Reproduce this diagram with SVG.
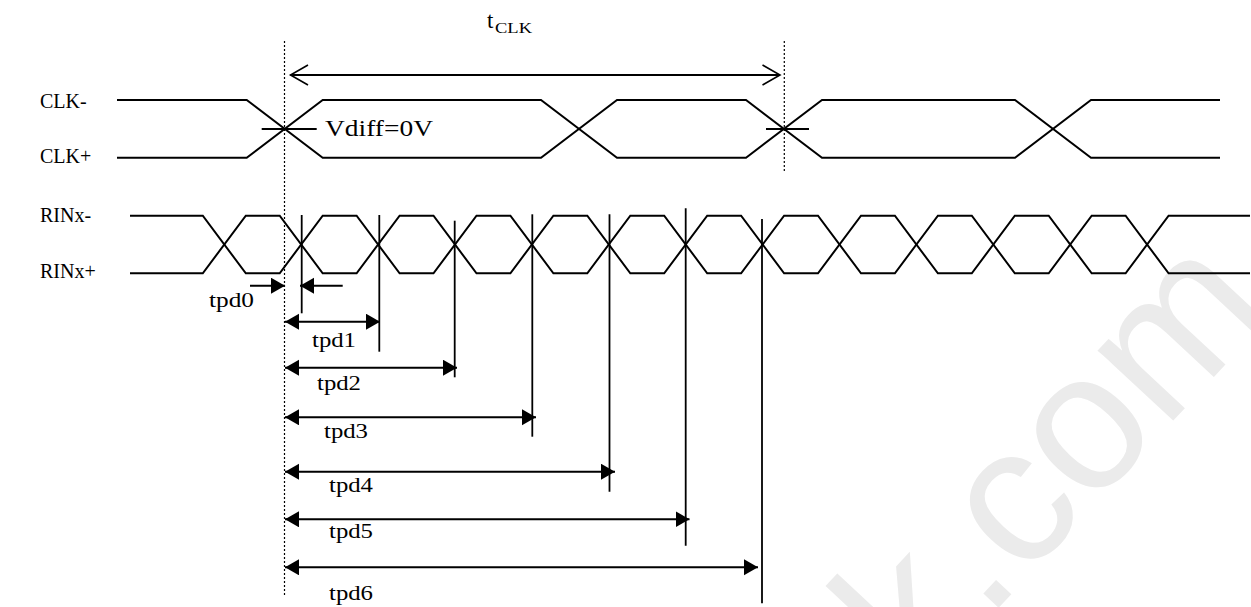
<svg xmlns="http://www.w3.org/2000/svg" width="1251" height="607" viewBox="0 0 1251 607">
<style>
.wave{fill:none;stroke:#000;stroke-width:2;stroke-linejoin:miter}
.vline{stroke:#000;stroke-width:1.8}
.dot{stroke:#000;stroke-width:1.2;stroke-dasharray:2,2}
.dim{stroke:#000;stroke-width:2;fill:none}
.tick{stroke:#000;stroke-width:2}
.serif{font-family:"Liberation Serif","Times New Roman",serif;fill:#000}
.lbl{font-size:20px}
.tpd{font-size:20px}
.wm{font-family:"Liberation Sans",Arial,sans-serif;font-size:195px;fill:#ebebeb}
</style>
<defs>
<marker id="fa" markerUnits="userSpaceOnUse" markerWidth="16" markerHeight="18" refX="14" refY="8" orient="auto-start-reverse">
<path d="M0,0 L14,8 L0,16 z" fill="#000"/>
</marker>
<marker id="oa" markerUnits="userSpaceOnUse" markerWidth="22" markerHeight="24" refX="18.5" refY="11" orient="auto-start-reverse">
<path d="M1,1 L18.5,11 L1,21" fill="none" stroke="#000" stroke-width="1.6"/>
</marker>
</defs>
<rect width="1251" height="607" fill="#fff"/>
<g id="watermark">
<text class="wm" transform="translate(920,692) rotate(-47)">k.com</text>
</g>
<g id="labels" font-family="Liberation Serif, Times New Roman, serif">
<text class="serif lbl" x="40" y="108">CLK-</text>
<text class="serif lbl" x="40" y="163">CLK+</text>
<text class="serif lbl" x="40" y="222">RINx-</text>
<text class="serif lbl" x="40" y="278">RINx+</text>
<text class="serif" x="325" y="136" font-size="24" textLength="108" lengthAdjust="spacingAndGlyphs">Vdiff=0V</text>
<text class="serif" x="487" y="28" font-size="23">t</text>
<text class="serif" x="495" y="33" font-size="15" textLength="37" lengthAdjust="spacingAndGlyphs">CLK</text>
</g>
<g id="clk-signal">
<path class="wave" d="M117,100 H246.7 L322.7,157.7 H541 L617,100 H746 L822,157.7 H1015 L1091,100 H1220"/>
<path class="wave" d="M117,157.7 H246.7 L322.7,100 H541 L617,157.7 H746 L822,100 H1015 L1091,157.7 H1220"/>
<line class="tick" x1="261.7" y1="129" x2="316.7" y2="129"/>
<line class="tick" x1="766" y1="129" x2="809" y2="129"/>
</g>
<g id="rinx-signal">
<path class="wave" d="M130,215.7 H202.8 L245.8,273.3 H279.7 L322.7,215.7 H356.6 L399.6,273.3 H433.5 L476.5,215.7 H510.4 L553.4,273.3 H587.3 L630.3,215.7 H664.2 L707.2,273.3 H741.1 L784.1,215.7 H818 L861,273.3 H894.9 L937.9,215.7 H971.8 L1014.8,273.3 H1048.7 L1091.7,215.7 H1125.6 L1168.6,273.3 H1250"/>
<path class="wave" d="M130,273.3 H202.8 L245.8,215.7 H279.7 L322.7,273.3 H356.6 L399.6,215.7 H433.5 L476.5,273.3 H510.4 L553.4,215.7 H587.3 L630.3,273.3 H664.2 L707.2,215.7 H741.1 L784.1,273.3 H818 L861,215.7 H894.9 L937.9,273.3 H971.8 L1014.8,215.7 H1048.7 L1091.7,273.3 H1125.6 L1168.6,215.7 H1250"/>
</g>
<g id="connectors">
<line class="dot" x1="284.5" y1="41" x2="284.5" y2="596"/>
<line class="dot" x1="784.3" y1="41" x2="784.3" y2="173"/>
<line class="dim" x1="290.5" y1="75" x2="780" y2="75" stroke-width="1.6" marker-start="url(#oa)" marker-end="url(#oa)"/>
<line class="vline" x1="301.7" y1="215" x2="301.7" y2="313.3"/>
<line class="vline" x1="379.3" y1="215" x2="379.3" y2="351.7"/>
<line class="vline" x1="454.7" y1="220.7" x2="454.7" y2="377.3"/>
<line class="vline" x1="532.3" y1="214.3" x2="532.3" y2="436.7"/>
<line class="vline" x1="609.5" y1="214.3" x2="609.5" y2="491.7"/>
<line class="vline" x1="685.7" y1="208.3" x2="685.7" y2="545.7"/>
<line class="vline" x1="762" y1="219" x2="762" y2="603.3"/>
<line class="dim" x1="250" y1="285.7" x2="285" y2="285.7" marker-end="url(#fa)"/>
<line class="dim" x1="342.7" y1="285.7" x2="300" y2="285.7" marker-end="url(#fa)"/>
<line class="dim" x1="285" y1="321.7" x2="380" y2="321.7" marker-start="url(#fa)" marker-end="url(#fa)"/>
<line class="dim" x1="285" y1="367.7" x2="457" y2="367.7" marker-start="url(#fa)" marker-end="url(#fa)"/>
<line class="dim" x1="285" y1="417.3" x2="536" y2="417.3" marker-start="url(#fa)" marker-end="url(#fa)"/>
<line class="dim" x1="285" y1="471.7" x2="615" y2="471.7" marker-start="url(#fa)" marker-end="url(#fa)"/>
<line class="dim" x1="285" y1="519.3" x2="689.5" y2="519.3" marker-start="url(#fa)" marker-end="url(#fa)"/>
<line class="dim" x1="285" y1="567.3" x2="758" y2="567.3" marker-start="url(#fa)" marker-end="url(#fa)"/>
</g>
<g id="tpd-labels">
<text class="serif tpd" x="209" y="307" textLength="45" lengthAdjust="spacingAndGlyphs">tpd0</text>
<text class="serif tpd" x="312" y="347" textLength="44" lengthAdjust="spacingAndGlyphs">tpd1</text>
<text class="serif tpd" x="317" y="390" textLength="44" lengthAdjust="spacingAndGlyphs">tpd2</text>
<text class="serif tpd" x="324" y="438" textLength="44" lengthAdjust="spacingAndGlyphs">tpd3</text>
<text class="serif tpd" x="329" y="492" textLength="44" lengthAdjust="spacingAndGlyphs">tpd4</text>
<text class="serif tpd" x="329" y="538" textLength="44" lengthAdjust="spacingAndGlyphs">tpd5</text>
<text class="serif tpd" x="329" y="600" textLength="44" lengthAdjust="spacingAndGlyphs">tpd6</text>
</g>
</svg>
